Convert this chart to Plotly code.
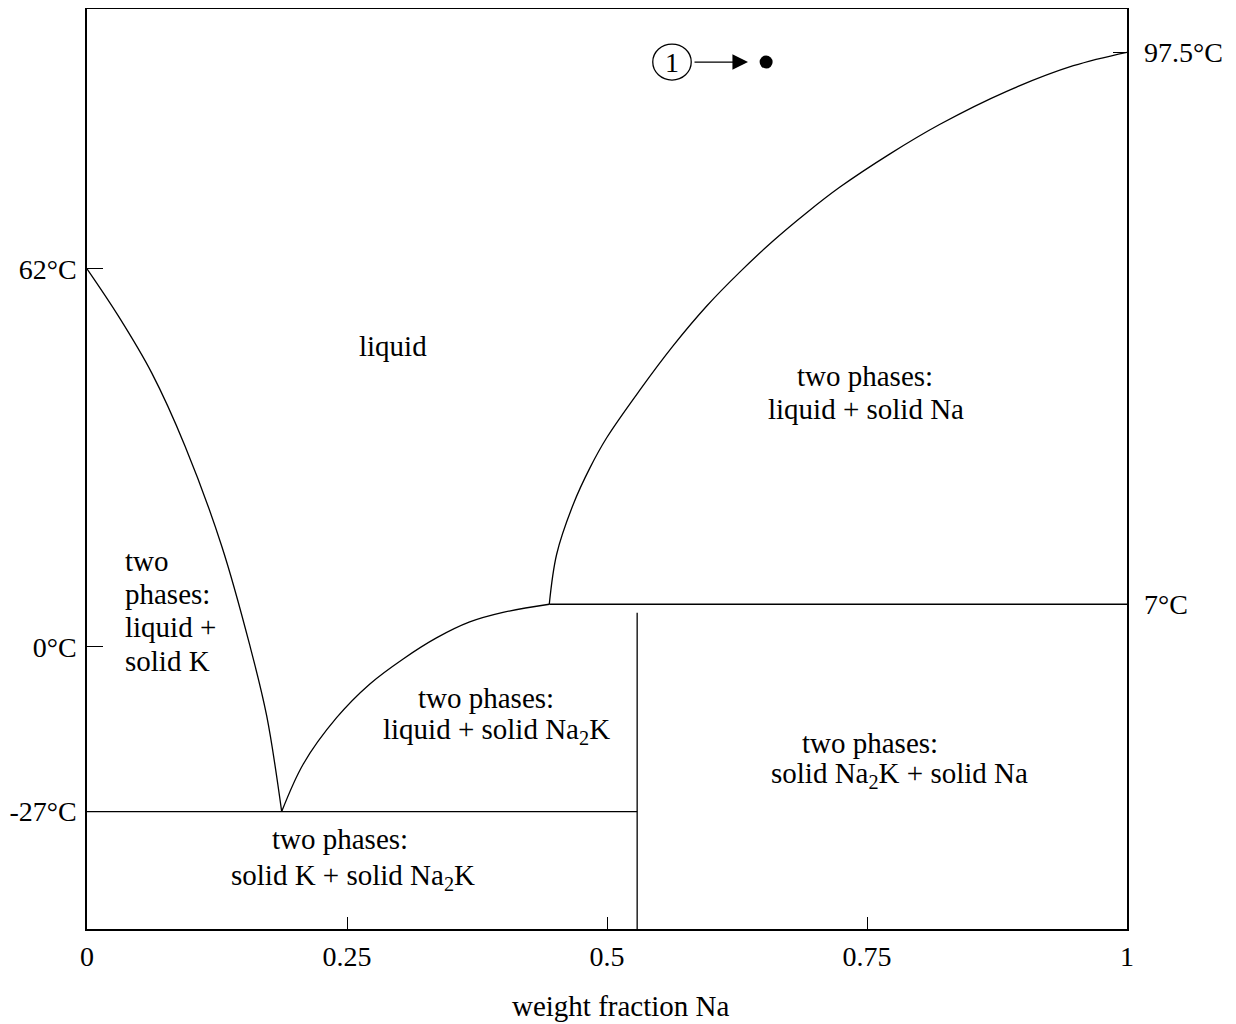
import plotly.graph_objects as go

# ---- data (x = weight fraction Na, T in °C) ----
left_liq_x = [0.0, 0.0301, 0.0622, 0.0942, 0.1295, 0.1567, 0.1728, 0.1872]
left_liq_T = [62.0, 54.28, 44.94, 32.96, 16.56, 0.16, -11.32, -27.0]

mid_liq_x = [0.1872, 0.208, 0.240, 0.272, 0.304, 0.336, 0.368, 0.400, 0.4445]
mid_liq_T = [-27.0, -19.19, -11.6, -6.07, -1.97, 1.48, 4.10, 5.66, 7.0]

right_liq_x = [0.4445, 0.4516, 0.4676, 0.4837, 0.4997, 0.5317, 0.5637, 0.5959, 0.6279,
               0.6599, 0.692, 0.724, 0.7721, 0.8202, 0.8843, 0.9484, 1.0]
right_liq_T = [7.0, 15.2, 23.4, 29.4, 34.3, 42.15, 49.4, 55.9, 61.5,
               66.6, 71.2, 75.4, 80.85, 85.7, 91.1, 95.3, 97.5]

peritectic_x = [0.4445, 1.0]
peritectic_T = [7.0, 7.0]

eutectic_x = [0.0, 0.529]
eutectic_T = [-27.0, -27.0]

compound_x = [0.529, 0.529]
compound_T = [-46.25, 5.6]

point_x = [0.653]
point_T = [95.9]

x_range = [0.0, 1.0]
T_range = [-46.25, 104.6]

x_tickvals = [0, 0.25, 0.5, 0.75, 1]
x_ticktext = ["0", "0.25", "0.5", "0.75", "1"]
left_tickvals = [62, 0, -27]
left_ticktext = ["62°C", "0°C", "-27°C"]
right_tickvals = [97.5, 7]
right_ticktext = ["97.5°C", "7°C"]
x_title = "weight fraction Na"

# region labels, one entry per text line: (x, T, text, anchor)
label_lines = [
    (0.2938, 49.4, "liquid", "center"),
    (0.7476, 44.44, "two phases:", "center"),
    (0.7495, 39.03, "liquid + solid Na", "center"),
    (0.0346, 14.1, "two", "left"),
    (0.0346, 8.69, "phases:", "left"),
    (0.0346, 3.28, "liquid +", "left"),
    (0.0346, -2.30, "solid K", "left"),
    (0.384, -8.36, "two phases:", "center"),
    (0.3938, -13.78, "liquid + solid Na<sub>2</sub>K", "center"),
    (0.7524, -15.75, "two phases:", "center"),
    (0.7808, -20.99, "solid Na<sub>2</sub>K + solid Na", "center"),
    (0.2428, -31.49, "two phases:", "center"),
    (0.2553, -37.72, "solid K + solid Na<sub>2</sub>K", "center"),
]

marker_label_x = 0.5625
marker_label_T = 95.9
arrow_tail_x = 0.5827
arrow_head_x = 0.6356

FONT = "Liberation Serif, Times New Roman, serif"
LINE = dict(color="black", width=1.3)

fig = go.Figure()
for xs, ts, shape in [
    (left_liq_x, left_liq_T, "spline"),
    (mid_liq_x, mid_liq_T, "spline"),
    (right_liq_x, right_liq_T, "spline"),
    (peritectic_x, peritectic_T, "linear"),
    (eutectic_x, eutectic_T, "linear"),
    (compound_x, compound_T, "linear"),
]:
    fig.add_trace(go.Scatter(x=xs, y=ts, mode="lines", line=dict(LINE, shape=shape),
                             showlegend=False, hoverinfo="skip"))

fig.add_trace(go.Scatter(x=point_x, y=point_T, mode="markers",
                         marker=dict(color="black", size=13), showlegend=False))

# invisible trace for right axis
fig.add_trace(go.Scatter(x=[0], y=[0], yaxis="y2", mode="markers",
                         marker=dict(opacity=0), showlegend=False, hoverinfo="skip"))

label_font = dict(family=FONT, size=29, color="black")
for lx, ly, txt, anc in label_lines:
    fig.add_annotation(x=lx, y=ly, text=txt, showarrow=False,
                       xanchor=anc, yanchor="middle", align=anc, font=label_font)

# x-axis title (slightly right of centre, as in the reference)
fig.add_annotation(x=0.5135, y=0, xref="paper", yref="paper", text=x_title,
                   showarrow=False, xanchor="center", yanchor="middle", yshift=-77,
                   font=label_font)

# circled "1" and arrow
fig.add_shape(type="circle", xref="x", yref="y",
              x0=marker_label_x - 0.0185, x1=marker_label_x + 0.0185,
              y0=marker_label_T - 2.95, y1=marker_label_T + 2.95,
              line=dict(color="black", width=1.3))
fig.add_annotation(x=marker_label_x, y=marker_label_T, text="1", showarrow=False,
                   font=dict(family=FONT, size=28, color="black"))
fig.add_annotation(x=arrow_head_x, y=marker_label_T, ax=arrow_tail_x, ay=marker_label_T,
                   axref="x", ayref="y", xref="x", yref="y", text="", showarrow=True,
                   arrowhead=2, arrowsize=2.4, arrowwidth=1.3, arrowcolor="black", standoff=0)

tick_font = dict(family=FONT, size=28, color="black")
# page body has an 8px default margin, so the figure is sized to fit the window
fig.update_layout(
    width=1228, height=1016,
    margin=dict(l=79, r=109, t=1, b=95),
    paper_bgcolor="white", plot_bgcolor="white",
    font=tick_font,
    xaxis=dict(range=x_range, tickvals=x_tickvals, ticktext=x_ticktext,
               ticks="inside", ticklen=12, tickwidth=1.3, tickcolor="black",
               showline=True, mirror=True, linecolor="black", linewidth=1.5,
               showgrid=False, zeroline=False, tickfont=tick_font, automargin=False,
               ticklabelstandoff=2),
    yaxis=dict(range=T_range, tickvals=left_tickvals, ticktext=left_ticktext,
               ticks="inside", ticklen=16, tickwidth=1.3, tickcolor="black",
               showline=True, mirror=True, linecolor="black", linewidth=1.5,
               showgrid=False, zeroline=False, tickfont=tick_font, automargin=False,
               ticklabelstandoff=3),
    yaxis2=dict(range=T_range, overlaying="y", side="right", tickvals=right_tickvals,
                ticktext=right_ticktext, ticks="inside", ticklen=14, tickwidth=1.3,
                tickcolor="black", showline=False, showgrid=False, zeroline=False,
                tickfont=tick_font, automargin=False, ticklabelstandoff=16),
)

fig.write_html("out.html")
